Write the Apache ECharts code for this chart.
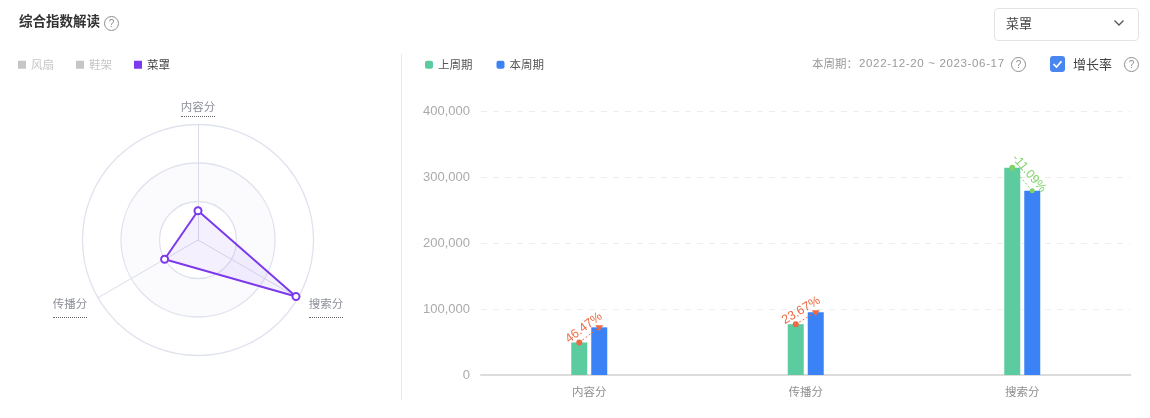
<!DOCTYPE html>
<html><head><meta charset="utf-8">
<script src="https://cdn.jsdelivr.net/npm/echarts@6/dist/echarts.min.js"></script>
<style>
html,body{margin:0;padding:0;background:#fff;font-family:"Noto Sans CJK SC","Noto Sans",sans-serif;}
#wrap{position:relative;width:1150px;height:418px;overflow:hidden;}
#chart{position:absolute;left:0;top:0;width:1150px;height:418px;}
.t{position:absolute;white-space:nowrap;line-height:1;}
.h{position:absolute;width:13px;height:13px;border:1.2px solid #8e8e8e;border-radius:50%;color:#8e8e8e;font-size:10px;line-height:13px;text-align:center;font-family:"Liberation Sans",sans-serif;}
.u{position:absolute;height:0;width:34px;border-bottom:1px dotted #666;}
</style></head><body>
<div id="wrap">
<div id="chart"></div>
<div class="t" style="left:19px;top:14px;font-size:13.5px;font-weight:700;color:#333;">综合指数解读</div>
<div class="h" style="left:104px;top:16px;"><span>?</span></div>
<div style="position:absolute;left:401px;top:54px;width:1px;height:346px;background:#e8e8e8;"></div>
<div style="position:absolute;left:994px;top:8px;width:143px;height:31px;border:1px solid #e3e3e3;border-radius:4px;"></div>
<div class="t" style="left:1006px;top:16px;font-size:13px;color:#444;">菜罩</div>
<svg style="position:absolute;left:1113px;top:19px;" width="12" height="8"><path d="M1.5 1.5 L6 6 L10.5 1.5" fill="none" stroke="#555" stroke-width="1.3"/></svg>
<div class="t" style="left:812px;top:58px;font-size:11.5px;color:#999;">本周期：</div>
<div class="t" style="left:859px;top:58px;font-size:11.5px;color:#999;font-family:'Liberation Sans',sans-serif;letter-spacing:.65px;">2022-12-20 ~ 2023-06-17</div>
<div class="h" style="left:1011px;top:57px;"><span>?</span></div>
<div style="position:absolute;left:1050px;top:56px;width:15px;height:16px;border-radius:3px;background:#4a86f0;"></div>
<svg style="position:absolute;left:1050px;top:56px;" width="15" height="16"><path d="M3.5 8 L6.5 11 L11.5 5.2" fill="none" stroke="#fff" stroke-width="1.7"/></svg>
<div class="t" style="left:1073px;top:57px;font-size:13px;color:#444;">增长率</div>
<div class="h" style="left:1124px;top:57px;"><span>?</span></div>
<div class="u" style="left:181px;top:116px;"></div>
<div class="u" style="left:53px;top:317px;"></div>
<div class="u" style="left:309px;top:317px;"></div>
</div>
<script>
var categories = ['内容分', '传播分', '搜索分'];
var previousPeriod = [49300, 77000, 314000];
var currentPeriod = [72200, 95200, 279200];
var growthLabels = ['46.47%', '23.67%', '-11.09%'];
var yTicks = [0, 100000, 200000, 300000, 400000];
var radarValues = [72200, 95200, 279200];
var radarSeriesNames = ['风扇', '鞋架', '菜罩'];
var radarMax = 285000;

var chart = echarts.init(document.getElementById('chart'), null, {renderer: 'canvas'});
var font = '"Noto Sans CJK SC","Noto Sans",sans-serif';
var growthRows = categories.map(function (c, i) {
  return [i, previousPeriod[i], currentPeriod[i], growthLabels[i]];
});

function renderGrowth(params, api) {
  var i = api.value(0);
  var p = api.coord([i, api.value(1)]);
  var q = api.coord([i, api.value(2)]);
  var x1 = p[0] - 10, y1 = p[1], x2 = q[0] + 10, y2 = q[1];
  var up = y2 < y1;
  var color = up ? '#ee6a44' : '#7fd36a';
  var ang = Math.atan2(y1 - y2, x2 - x1);
  var mx = (x1 + x2) / 2, my = (y1 + y2) / 2;
  var off = 9;
  var tx = mx - Math.sin(ang) * off;
  var ty = my - Math.cos(ang) * off;
  var tri = up
    ? [[x2 - 4, y2 - 2], [x2 + 4, y2 - 2], [x2, y2 + 4]]
    : null;
  var children = [
    {type: 'line', shape: {x1: x1, y1: y1, x2: x2, y2: y2},
      style: {stroke: color, lineWidth: 1, lineDash: [2, 2]}},
    {type: 'circle', shape: {cx: x1, cy: y1, r: 3}, style: {fill: color}}
  ];
  if (tri) children.push({type: 'polygon', shape: {points: tri}, style: {fill: color}});
  else children.push({type: 'circle', shape: {cx: x2, cy: y2, r: 2.5}, style: {fill: color}});
  children.push({type: 'text', x: tx, y: ty, rotation: ang,
    style: {text: api.value(3), fill: color, font: '12.5px "Liberation Sans",sans-serif',
      textAlign: 'center', textVerticalAlign: 'middle'}});
  return {type: 'group', children: children};
}

chart.setOption({
  animation: false,
  backgroundColor: '#fff',
  legend: [
    {left: 13, top: 54, itemWidth: 8, itemHeight: 8, itemGap: 22, icon: 'rect',
      data: radarSeriesNames.map(function (n) {
        return {name: n, itemStyle: {color: '#7c3aed', borderWidth: 0}};
      }),
      selected: {'风扇': false, '鞋架': false, '菜罩': true},
      inactiveColor: '#c6c6c6',
      textStyle: {fontFamily: font, fontSize: 11.5, color: '#444'}},
    {left: 420, top: 54, itemWidth: 8, itemHeight: 8, itemGap: 24, icon: 'roundRect',
      data: ['上周期', '本周期'],
      textStyle: {fontFamily: font, fontSize: 11.5, color: '#555'}}
  ],
  radar: {
    center: [198, 240],
    radius: 115.5,
    shape: 'circle',
    splitNumber: 3,
    nameGap: 12.5,
    axisName: {color: '#8d9099', fontSize: 11.5, fontFamily: font},
    axisLine: {lineStyle: {color: '#d9deea', width: 1}},
    splitLine: {lineStyle: {color: '#dfe3ee', width: 1.3}},
    splitArea: {areaStyle: {color: ['#ffffff', '#fbfbfe', '#ffffff']}},
    indicator: categories.map(function (c) { return {name: c, min: 0, max: radarMax}; })
  },
  grid: {left: 481, right: 19.5, top: 111, height: 264},
  xAxis: {
    type: 'category', data: categories,
    axisTick: {show: false},
    axisLine: {lineStyle: {color: '#dcdcdc', width: 2}},
    axisLabel: {color: '#8f8f8f', fontSize: 11.5, fontFamily: font, margin: 11}
  },
  yAxis: {
    type: 'value', min: yTicks[0], max: yTicks[yTicks.length - 1], interval: yTicks[1] - yTicks[0],
    axisLine: {show: false}, axisTick: {show: false},
    axisLabel: {color: '#aaaaaa', fontSize: 13, margin: 11, padding: [1, 0, 0, 0], fontFamily: '"Liberation Sans",sans-serif',
      formatter: function (v) { return v.toLocaleString('en-US'); }},
    splitLine: {lineStyle: {color: '#eeeeee', type: [6, 6]}}
  },
  series: [
    {name: '风扇', type: 'radar', data: [], itemStyle: {color: '#c6c6c6'}},
    {name: '鞋架', type: 'radar', data: [], itemStyle: {color: '#c6c6c6'}},
    {name: '菜罩', type: 'radar', symbol: 'circle', symbolSize: 7,
      itemStyle: {color: '#ffffff', borderColor: '#7c3aed', borderWidth: 2},
      lineStyle: {color: '#7c3aed', width: 2},
      areaStyle: {color: 'rgba(124,58,237,0.11)'},
      data: [{value: radarValues, name: '菜罩'}]},
    {name: '上周期', type: 'bar', data: previousPeriod, barWidth: 16, barGap: '25%',
      itemStyle: {color: '#5ccba0'}},
    {name: '本周期', type: 'bar', data: currentPeriod, barWidth: 16,
      itemStyle: {color: '#3b82f6'}},
    {name: '增长率', type: 'custom', data: growthRows, renderItem: renderGrowth, z: 5, clip: false,
      encode: {x: 0, y: [1, 2]}, silent: true}
  ]
});
</script>
</body></html>
